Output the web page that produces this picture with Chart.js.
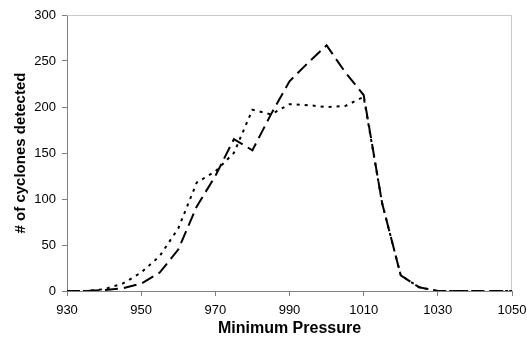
<!DOCTYPE html>
<html>
<head>
<meta charset="utf-8">
<script src="https://cdn.jsdelivr.net/npm/chart.js@4/dist/chart.umd.min.js"></script>
<style>
  html, body { margin: 0; padding: 0; background: #fff; }
  #wrap { width: 527px; height: 338px; }
</style>
</head>
<body>
<div id="wrap"><canvas id="chart" width="527" height="338"></canvas></div>
<script>
const pressures = [930, 935, 940, 945, 950, 955, 960, 965, 970, 975, 980, 985, 990, 995, 1000, 1005, 1010, 1015, 1020, 1025, 1030, 1035, 1040, 1045, 1050];
const dashedCounts = [0, 0, 1, 3, 8, 20, 45, 92, 125, 165, 153, 192, 228, 248, 267, 238, 213, 95, 17, 4, 0, 0, 0, 0, 0];
const dottedCounts = [0, 0, 2, 8, 20, 38, 68, 118, 130, 150, 197, 192, 203, 202, 200, 201, 211, 95, 17, 4, 0, 0, 0, 0, 0];
const xTicks = [930, 950, 970, 990, 1010, 1030, 1050];
const yTicks = [0, 50, 100, 150, 200, 250, 300];

const toPoints = (ys) => pressures.map((p, i) => ({ x: p, y: ys[i] }));

// light frame on top and right of the plot
const frame = {
  id: 'frame',
  beforeDatasetsDraw(chart) {
    const { ctx, chartArea: a } = chart;
    ctx.save();
    ctx.strokeStyle = '#c8c8c8';
    ctx.lineWidth = 1;
    ctx.beginPath();
    ctx.moveTo(a.left, a.top + 0.5);
    ctx.lineTo(a.right - 0.5, a.top + 0.5);
    ctx.lineTo(a.right - 0.5, a.bottom);
    ctx.stroke();
    ctx.restore();
  },
};

Chart.defaults.font.family = '"Liberation Sans", Arial, sans-serif';
Chart.defaults.color = '#000';

new Chart(document.getElementById('chart'), {
  type: 'line',
  data: {
    datasets: [
      {
        data: toPoints(dashedCounts),
        borderColor: '#000',
        borderWidth: 2,
        borderDash: [13, 6],
        pointRadius: 0,
        tension: 0,
      },
      {
        data: toPoints(dottedCounts),
        borderColor: '#000',
        borderWidth: 2,
        borderDash: [3, 5],
        pointRadius: 0,
        tension: 0,
      },
    ],
  },
  options: {
    responsive: false,
    animation: false,
    events: [],
    layout: { padding: { left: 0, right: 15, top: 15, bottom: 0 } },
    scales: {
      x: {
        type: 'linear',
        min: 930,
        max: 1050,
        afterBuildTicks: (s) => { s.ticks = xTicks.map((v) => ({ value: v })); },
        afterFit: (s) => { s.height = 47; s.paddingLeft = 0; s.paddingRight = 0; },
        grid: { drawOnChartArea: false, color: '#808080', tickLength: 5 },
        border: { color: '#808080', width: 1 },
        ticks: { font: { size: 13 }, padding: 7, maxRotation: 0, callback: (v) => String(v) },
        title: {
          display: true,
          text: 'Minimum Pressure',
          font: { size: 16, weight: 'bold' },
          padding: { top: 0, bottom: 0 },
        },
      },
      y: {
        min: 0,
        max: 300,
        afterBuildTicks: (s) => { s.ticks = yTicks.map((v) => ({ value: v })); },
        afterFit: (s) => { s.width = 67; s.paddingTop = 0; s.paddingBottom = 0; },
        grid: { drawOnChartArea: false, color: '#808080', tickLength: 5 },
        border: { color: '#808080', width: 1 },
        ticks: { font: { size: 13 }, padding: 6, callback: (v) => String(v) },
        title: {
          display: true,
          text: '# of cyclones detected',
          font: { size: 15, weight: 'bold' },
          padding: { top: 12, bottom: 0 },
        },
      },
    },
    plugins: {
      legend: { display: false },
      tooltip: { enabled: false },
    },
  },
  plugins: [frame],
});
</script>
</body>
</html>
